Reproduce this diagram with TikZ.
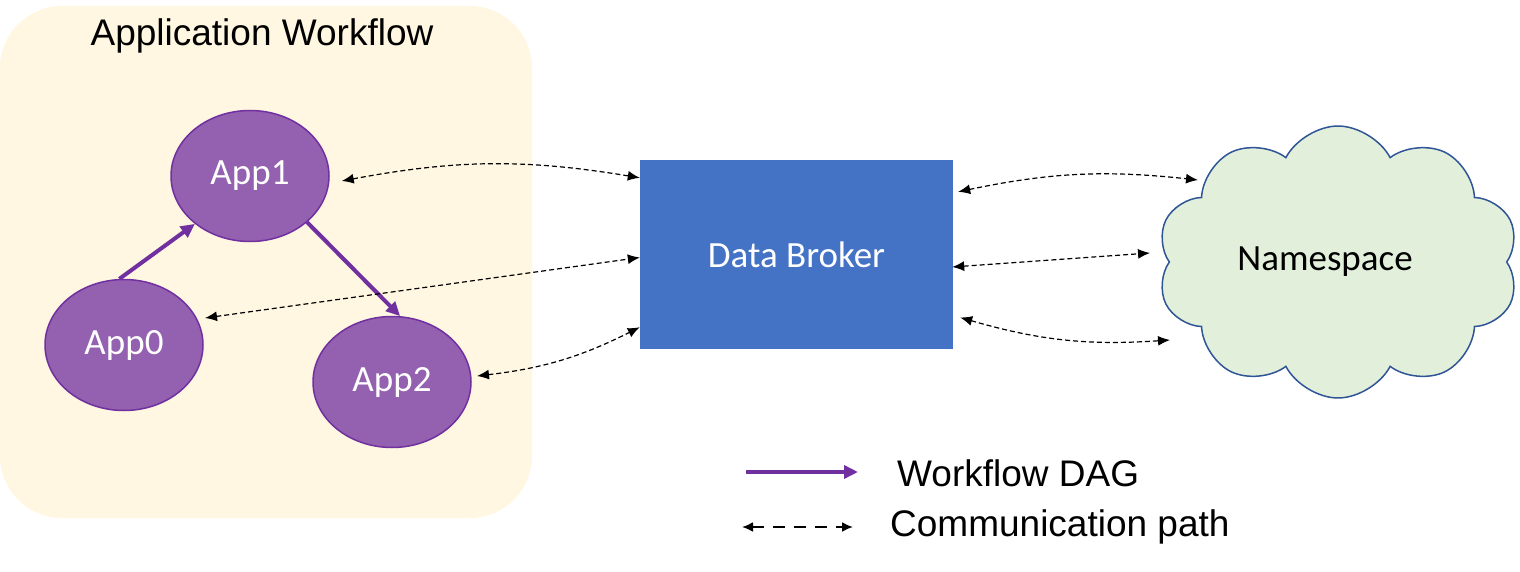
\documentclass[tikz,border=0pt]{standalone}
\usepackage{fontspec}
\setmainfont{Liberation Sans}
\newfontfamily\calib{Carlito}
\usetikzlibrary{shapes.geometric,shapes.symbols,arrows.meta,calc}
\definecolor{cream}{HTML}{FFF7E1}
\definecolor{appfill}{HTML}{9460B0}
\definecolor{dagpurple}{HTML}{7030A0}
\definecolor{dbblue}{HTML}{4472C4}
\definecolor{cloudfill}{HTML}{E2EFDA}
\definecolor{cloudline}{HTML}{2F5597}
\begin{document}
\begin{tikzpicture}[x=1pt,y=-1pt,
  app/.style={ellipse, draw=dagpurple, line width=1.5pt, fill=appfill,
    minimum width=158pt, minimum height=131pt, inner sep=0pt, text=white,
    font=\calib\fontsize{37}{44}\selectfont},
  dag/.style={draw=dagpurple, line width=4pt, -{Triangle[length=14pt,width=13pt]}},
  comm/.style={draw=black, line width=1.2pt, dash pattern=on 5pt off 3pt,
    {Latex[length=12pt,width=10pt]}-{Latex[length=12pt,width=10pt]}},
  commlegend/.style={draw=black, line width=2pt, dash pattern=on 12pt off 9pt,
    {Latex[length=11pt,width=10pt]}-{Latex[length=11pt,width=10pt]}},
  lbl/.style={font=\fontsize{37}{44}\selectfont, inner sep=0pt},
]
\useasboundingbox (0,0) rectangle (1520,572);
% background panel
\fill[cream, rounded corners=62pt] (0,6) rectangle (532,518);
\node[lbl] (title) at (262,36) {Application Workflow};

% apps
\node[app] (app1) at (250,176) {App1};
\node[app] (app0) at (124,345) {App0};
\node[app] (app2) at (392,382) {App2};

% data broker
\node[fill=dbblue, minimum width=313pt, minimum height=189pt, inner sep=0pt,
  text=white, font=\calib\fontsize{37}{44}\selectfont] (db) at (796.5,254.5) {Data Broker};

% namespace cloud
\node[cloud, cloud puffs=10, cloud puff arc=125, aspect=1.33, draw=cloudline,
  line width=1.5pt, fill=cloudfill, minimum width=362pt, minimum height=272pt,
  inner sep=0pt, font=\calib\fontsize{37}{44}\selectfont] (ns) at (1338,262) {Namespace\hspace*{26pt}};

% workflow DAG
\draw[dag] (app0.94) -- (app1.221);
\draw[dag] (app1.321) -- (app2.83);

% communication paths
\draw[comm] ($(app1.east)+(12,5)$) to[bend left=10] ($(db.north west)+(0,18)$);
\draw[comm] ($(app0.center)+(81,-27)$) -- ($(db.west)+(0,3)$);
\draw[comm] ($(app2.center)+(85,-6)$) to[bend right=10] ($(db.south west)+(0,-22)$);
\draw[comm] ($(db.north east)+(5,32)$) to[bend left=9] ($(ns.center)+(-140,-82)$);
\draw[comm] ($(db.east)+(-1,12.5)$) -- ($(ns.center)+(-188,-9)$);
\draw[comm] ($(db.east)+(7,63)$) to[bend right=10] ($(ns.center)+(-168,78)$);

% legend
\coordinate (la) at (746,472);
\coordinate (lb) at (858,472);
\coordinate (lc) at (742,527);
\coordinate (ld) at (853,527);
\draw[dag] (la) -- (lb);
\draw[commlegend] (lc) -- (ld);
\node[lbl, anchor=west] (ldag) at (897,473) {Workflow DAG};
\node[lbl, anchor=west] (lcomm) at (890,527) {Communication path};
\end{tikzpicture}
\end{document}
